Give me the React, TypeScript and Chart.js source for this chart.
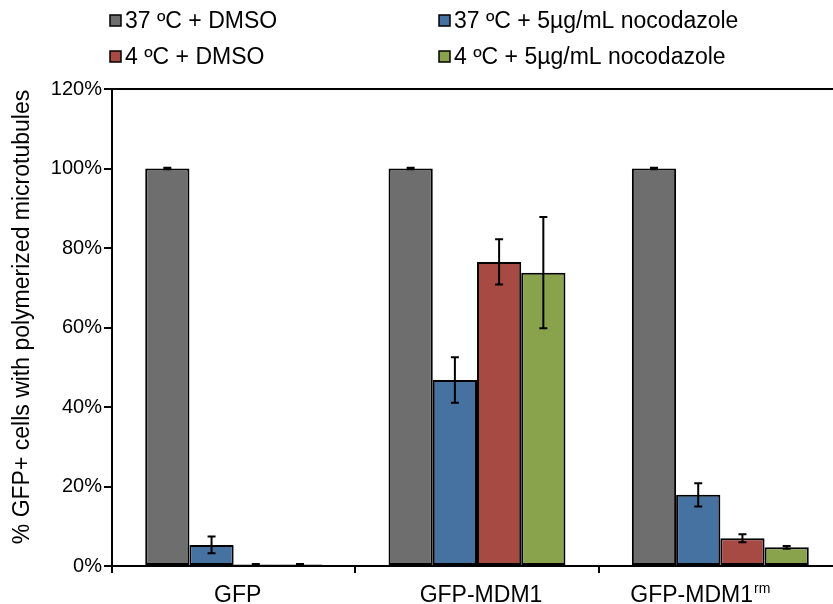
import React, { useEffect, useRef } from 'react';
import { Chart, registerables } from 'chart.js';

Chart.register(...registerables);

const FONT = '"Liberation Sans", Arial, Helvetica, sans-serif';

const categories = ['GFP', 'GFP-MDM1', 'GFP-MDM1rm'];
const seriesLabels = [
  '37 ºC + DMSO',
  '37 ºC + 5µg/mL nocodazole',
  '4 ºC + DMSO',
  '4 ºC + 5µg/mL nocodazole',
];
const seriesColors = ['#6e6e6e', '#4672a2', '#a84a44', '#88a34b'];
const yTitle = '% GFP+ cells with polymerized microtubules';

const dmso37 = [100, 100, 100];
const dmso37Err = [0.2, 0.2, 0.2];
const noco37 = [5.3, 46.8, 17.9];
const noco37Err = [2.1, 5.7, 2.9];
const dmso4 = [0.4, 76.5, 7.0];
const dmso4Err = [0.1, 5.7, 1.0];
const noco4 = [0.4, 73.8, 4.7];
const noco4Err = [0.1, 14.0, 0.35];

const yTicks = [0, 20, 40, 60, 80, 100, 120];

const seriesValues = [dmso37, noco37, dmso4, noco4];
const seriesErrors = [dmso37Err, noco37Err, dmso4Err, noco4Err];

const errorBarPlugin = {
  id: 'errorBars',
  afterDatasetsDraw(chart: any) {
    const ctx = chart.ctx;
    const yScale = chart.scales.y;
    ctx.save();
    ctx.strokeStyle = '#000';
    ctx.lineWidth = 2;
    chart.data.datasets.forEach((ds: any, di: number) => {
      const meta = chart.getDatasetMeta(di);
      const errs = seriesErrors[di];
      meta.data.forEach((bar: any, i: number) => {
        const v = ds.data[i];
        const e = errs[i];
        const yTop = yScale.getPixelForValue(v + e);
        const yBot = yScale.getPixelForValue(v - e);
        const x = bar.x;
        const cap = 4;
        ctx.beginPath();
        ctx.moveTo(x, yTop);
        ctx.lineTo(x, yBot);
        ctx.moveTo(x - cap, yTop);
        ctx.lineTo(x + cap, yTop);
        ctx.moveTo(x - cap, yBot);
        ctx.lineTo(x + cap, yBot);
        ctx.stroke();
      });
    });
    ctx.restore();
  },
};

const legendPlugin = {
  id: 'customLegend',
  afterDraw(chart: any) {
    const ctx = chart.ctx;
    const colX = [110, 439];
    const rowY = [21, 57];
    ctx.save();
    ctx.font = `23px ${FONT}`;
    ctx.textBaseline = 'middle';
    ctx.textAlign = 'left';
    seriesLabels.forEach((lab, i) => {
      const x = colX[i % 2];
      const y = rowY[Math.floor(i / 2)];
      ctx.fillStyle = seriesColors[i];
      ctx.fillRect(x, y - 6, 11, 11);
      ctx.strokeStyle = '#000';
      ctx.lineWidth = 1.5;
      ctx.strokeRect(x, y - 6, 11, 11);
      ctx.fillStyle = '#000';
      ctx.fillText(lab, x + 15, y + 1);
    });
    ctx.restore();
  },
};

const textPlugin = {
  id: 'axisTexts',
  afterDraw(chart: any) {
    const ctx = chart.ctx;
    const xScale = chart.scales.x;
    const baseY = 602;
    ctx.save();
    ctx.fillStyle = '#000';
    ctx.textBaseline = 'alphabetic';
    categories.forEach((c, i) => {
      const x = xScale.getPixelForValue(i);
      if (c.endsWith('rm')) {
        const main = c.slice(0, -2);
        const sup = 'rm';
        ctx.font = `23px ${FONT}`;
        const w1 = ctx.measureText(main).width;
        const start = x - 90;
        ctx.textAlign = 'left';
        ctx.fillText(main, start, baseY);
        ctx.font = `14px ${FONT}`;
        ctx.fillText(sup, start + w1 + 1, baseY - 9);
      } else {
        ctx.textAlign = 'center';
        ctx.font = `23px ${FONT}`;
        ctx.fillText(c, x + 4, baseY);
      }
    });
    // y-axis title
    ctx.save();
    ctx.translate(23, 317);
    ctx.rotate(-Math.PI / 2);
    ctx.textAlign = 'center';
    ctx.textBaseline = 'middle';
    ctx.font = `23px ${FONT}`;
    ctx.fillText(yTitle, 0, 0);
    ctx.restore();
    ctx.restore();
  },
};

export default function App() {
  const ref = useRef<HTMLCanvasElement | null>(null);

  useEffect(() => {
    document.body.style.margin = '0';
    if (!ref.current) return;
    const chart = new Chart(ref.current, {
      type: 'bar',
      data: {
        labels: categories,
        datasets: seriesLabels.map((lab, i) => ({
          label: lab,
          data: seriesValues[i],
          backgroundColor: seriesColors[i],
          borderColor: '#000',
          borderWidth: 2,
          borderSkipped: false,
          categoryPercentage: 0.727,
          barPercentage: 1,
        })),
      },
      options: {
        animation: false,
        responsive: false,
        maintainAspectRatio: false,
        layout: { padding: { top: 89, left: 0, right: 0, bottom: 0 } },
        plugins: {
          legend: { display: false },
          tooltip: { enabled: false },
        },
        scales: {
          x: {
            grid: {
              drawOnChartArea: false,
              tickColor: '#000',
              tickLength: 7,
              lineWidth: 2,
              offset: true,
            },
            border: { color: '#000', width: 2 },
            ticks: { color: 'rgba(0,0,0,0)', font: { size: 19, family: FONT } },
            afterFit: (s: any) => {
              s.height = 38;
            },
          },
          y: {
            min: 0,
            max: 120,
            afterBuildTicks: (s: any) => {
              s.ticks = yTicks.map((v) => ({ value: v }));
            },
            grid: {
              drawOnChartArea: true,
              color: (c: any) => (c.tick && c.tick.value === 120 ? '#000' : 'rgba(0,0,0,0)'),
              tickColor: '#000',
              tickLength: 8,
              lineWidth: 2,
            },
            border: { color: '#000', width: 2 },
            ticks: {
              color: '#000',
              padding: 2,
              font: { size: 20, family: FONT },
              callback: (v: any) => `${v}%`,
            },
            afterFit: (s: any) => {
              s.width = 112;
            },
          },
        },
      },
      plugins: [errorBarPlugin, legendPlugin, textPlugin],
    });
    return () => chart.destroy();
  }, []);

  return (
    <div style={{ width: 833, height: 604, overflow: 'hidden', position: 'relative' }}>
      <canvas ref={ref} width={842} height={604} style={{ display: 'block' }} />
    </div>
  );
}
